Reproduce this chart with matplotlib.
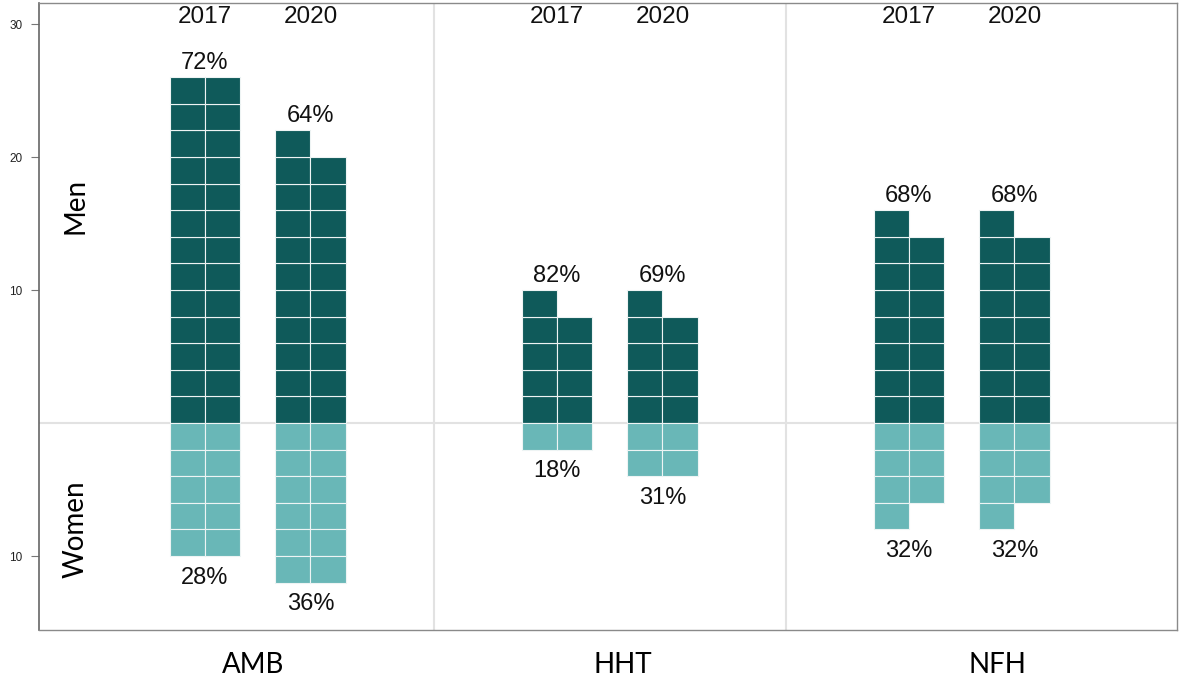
import matplotlib.pyplot as plt
import matplotlib.transforms as mtransforms

# data: number of cells (each cell = 2 on the y scale), filled two per row
groups = ["AMB", "HHT", "NFH"]
years = ["2017", "2020"]
men_cells = [[26, 21], [9, 9], [15, 15]]
women_cells = [[10, 12], [2, 4], [7, 7]]
men_pct = [[72, 64], [82, 69], [68, 68]]
women_pct = [[28, 36], [18, 31], [32, 32]]

yticks = [30, 20, 10, -10]
ytick_labels = ["30", "20", "10", "10"]

dark = "#0f5a5a"
light = "#69b7b7"
num_font = ["Liberation Sans", "DejaVu Sans"]
lab_font = ["Lato", "DejaVu Sans"]

fig = plt.figure(figsize=(11.83, 6.8), dpi=100)
ax = fig.add_axes([0.033, 0.0735, 0.962, 0.922])

group_gap = 10
year_off = [-1.5, 1.5]


def draw_cells(xc, n, color, sign):
    for i in range(n):
        row, col = divmod(i, 2)
        x = xc - 0.5 + col
        bottom = row * 2 if sign > 0 else -(row + 1) * 2
        ax.bar(x, 2, bottom=bottom, width=1, color=color,
               edgecolor="#eef4f4", linewidth=0.8, zorder=3)


for g, grp in enumerate(groups):
    gc = g * group_gap
    for j, yr in enumerate(years):
        xc = gc + year_off[j]
        m = men_cells[g][j]
        w = women_cells[g][j]
        draw_cells(xc, m, dark, 1)
        draw_cells(xc, w, light, -1)
        top = ((m + 1) // 2) * 2
        bot = -((w + 1) // 2) * 2
        ax.text(xc, top + 0.25, f"{men_pct[g][j]}%", ha="center", va="bottom",
                fontsize=17, family=num_font, color="#111111")
        ax.text(xc, bot - 0.8, f"{women_pct[g][j]}%", ha="center", va="top",
                fontsize=17, family=num_font, color="#111111")
        ax.text(xc, 30.5, yr, ha="center", va="center",
                fontsize=17.5, family=num_font, color="#111111")

# separators and zero line
for k in range(1, len(groups)):
    ax.axvline(k * group_gap - group_gap / 2, color="#e2e2e2", lw=1.5, zorder=1)
ax.axhline(0, color="#e2e2e2", lw=1.5, zorder=1)

ax.text(-5.16, 16.3, "Men", rotation=90, ha="center", va="center",
        fontsize=20, family=lab_font, color="black")
ax.text(-5.16, -8.0, "Women", rotation=90, ha="center", va="center",
        fontsize=20, family=lab_font, color="black")

# facet labels below the panel
trans = mtransforms.blended_transform_factory(ax.transAxes, fig.transFigure)
for g, xf in zip(groups, [0.188, 0.513, 0.842]):
    ax.text(xf, 0.022, g, transform=trans, ha="center", va="center",
            fontsize=20, family=lab_font, color="black")

ax.set_xlim(-6.21, 26.12)
ax.set_ylim(-15.56, 31.58)
ax.set_xticks([])
ax.set_yticks(yticks)
ax.set_yticklabels(ytick_labels, fontsize=8.5, family=num_font, color="#222222")
ax.tick_params(axis="y", length=6, width=0.8, color="#777777", pad=6)

for side in ["top", "right", "bottom"]:
    ax.spines[side].set_color("#8a8a8a")
    ax.spines[side].set_linewidth(1.0)
ax.spines["left"].set_color("#666666")
ax.spines["left"].set_linewidth(1.2)

fig.savefig("out.png", dpi=100)
